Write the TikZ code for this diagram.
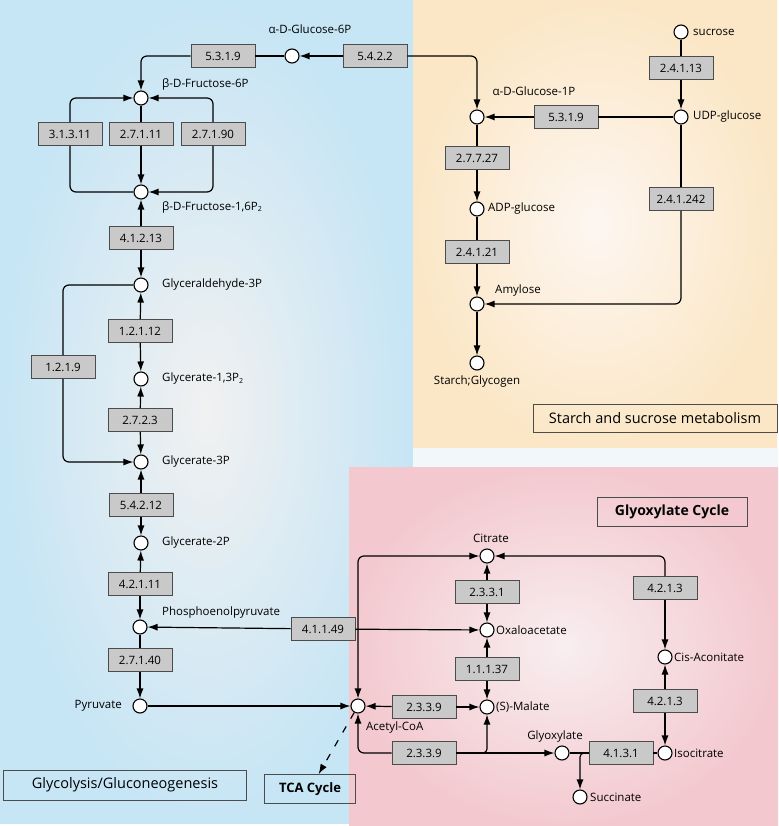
\documentclass[tikz,border=0pt]{standalone}
\usepackage{fontspec}
\setmainfont{Open Sans}
\usepackage{xcolor}
\usepackage{tikz}
\usetikzlibrary{arrows.meta}

\definecolor{bluebg}{HTML}{C6E5F5}
\definecolor{bluemid}{HTML}{F1F1F1}
\definecolor{tanbg}{HTML}{FBE7C6}
\definecolor{tanmid}{HTML}{FDF6F1}
\definecolor{pinkbg}{HTML}{F3C9CF}
\definecolor{pinkmid}{HTML}{F8EEF0}
\definecolor{stripbg}{HTML}{F2F7FA}
\definecolor{enzfill}{HTML}{C9C9C9}

\begin{document}
\begin{tikzpicture}[
        x=1pt, y=-1pt,
        met/.style = {draw, circle, fill=white, line width=1.1pt, inner sep=0pt, minimum size=14pt},
        enz/.style = {draw=black!70, fill=enzfill, rectangle, line width=0.8pt, minimum width=64pt, minimum height=23pt, font=\fontsize{11.5}{13}\selectfont},
        lbl/.style = {inner sep=1pt, font=\fontsize{11.5}{13}\selectfont},
        pathbox/.style = {draw=black!70, rectangle, line width=0.8pt, font=\fontsize{14.5}{16}\selectfont},
        arrow/.style = {-{Latex[length=10pt,width=7pt]}, line width=1.2pt},
        biarrow/.style = {{Latex[length=10pt,width=7pt]}-{Latex[length=10pt,width=7pt]}, line width=1.2pt},
        line/.style = {line width=1.2pt}
    ]

    % Panels
    \useasboundingbox (0,0) rectangle (778,826);
    \fill[white] (0,0) rectangle (778,826);
    \shade[inner color=bluemid, outer color=bluebg] (0,0) rectangle (413,823);
    \shade[inner color=tanmid, outer color=tanbg] (413,0) rectangle (777,448);
    \fill[stripbg] (413,448) rectangle (778,467);
    \shade[inner color=pinkmid, outer color=pinkbg] (349,467) rectangle (778,826);

    % Glycolysis column
    \node[met] (g6p) at (292,56) {};
    \node[lbl] (g6p-t) at (310,29) {α-D-Glucose-6P};
    \node[enz] (e5319a) at (223,56) {5.3.1.9};
    \node[enz] (e5422) at (375,56) {5.4.2.2};
    \node[met] (f6p) at (141,98) {};
    \node[lbl, anchor=west] (f6p-t) at (161,84) {β-D-Fructose-6P};
    \node[enz] (e31311) at (70,134) {3.1.3.11};
    \node[enz] (e27111) at (141,134) {2.7.1.11};
    \node[enz] (e27190) at (213,134) {2.7.1.90};
    \node[met] (f16p) at (141,192) {};
    \node[lbl, anchor=west] (f16p-t) at (161,207) {β-D-Fructose-1,6P\raisebox{-0.3ex}{\scriptsize 2}};
    \node[enz] (e41213) at (141,238) {4.1.2.13};
    \node[met] (gap) at (141,285) {};
    \node[lbl, anchor=west] (gap-t) at (161,285) {Glyceraldehyde-3P};
    \node[enz] (e12112) at (140,331) {1.2.1.12};
    \node[met] (g13p) at (141,379) {};
    \node[lbl, anchor=west] (g13p-t) at (161,379) {Glycerate-1,3P\raisebox{-0.3ex}{\scriptsize 2}};
    \node[enz] (e2723) at (140,420) {2.7.2.3};
    \node[enz] (e1219) at (63,367) {1.2.1.9};
    \node[met] (g3p) at (141,462) {};
    \node[lbl, anchor=west] (g3p-t) at (161,462) {Glycerate-3P};
    \node[enz] (e54212) at (141,505) {5.4.2.12};
    \node[met] (g2p) at (141,543) {};
    \node[lbl, anchor=west] (g2p-t) at (161,543) {Glycerate-2P};
    \node[enz] (e42111) at (140,584) {4.2.1.11};
    \node[met] (pep) at (140,627) {};
    \node[lbl, anchor=west] (pep-t) at (161,613) {Phosphoenolpyruvate};
    \node[enz] (e27140) at (140,660) {2.7.1.40};
    \node[met] (pyr) at (140,706) {};
    \node[lbl, anchor=east] (pyr-t) at (123,706) {Pyruvate};
    \node[enz] (e41149) at (323,629) {4.1.1.49};

    % Starch and sucrose
    \node[met] (sucr) at (681,32) {};
    \node[lbl, anchor=west] (sucr-t) at (692,32) {sucrose};
    \node[enz] (e24113) at (681,68) {2.4.1.13};
    \node[met] (udp) at (681,117) {};
    \node[lbl, anchor=west] (udp-t) at (692,117) {UDP-glucose};
    \node[enz] (e5319b) at (566,117) {5.3.1.9};
    \node[met] (g1p) at (477,117) {};
    \node[lbl] (g1p-t) at (534,91) {α-D-Glucose-1P};
    \node[enz] (e27727) at (477,158) {2.7.7.27};
    \node[met] (adp) at (477,209) {};
    \node[lbl, anchor=west] (adp-t) at (487,209) {ADP-glucose};
    \node[enz] (e24121) at (477,252) {2.4.1.21};
    \node[met] (amy) at (477,304) {};
    \node[lbl] (amy-t) at (518,291) {Amylose};
    \node[met] (stg) at (477,363) {};
    \node[lbl] (stg-t) at (477,382) {Starch;Glycogen};
    \node[enz] (e241242) at (681,199) {2.4.1.242};

    % Glyoxylate cycle
    \node[met] (acoa) at (358,706) {};
    \node[lbl, anchor=west] (acoa-t) at (365,728) {Acetyl-CoA};
    \node[met] (cit) at (487,556) {};
    \node[lbl] (cit-t) at (491,538) {Citrate};
    \node[enz] (e2331) at (487,592) {2.3.3.1};
    \node[met] (oaa) at (487,630) {};
    \node[lbl, anchor=west] (oaa-t) at (495,630) {Oxaloacetate};
    \node[enz] (e11137) at (487,669) {1.1.1.37};
    \node[met] (mal) at (487,707) {};
    \node[lbl, anchor=west] (mal-t) at (495,707) {(S)-Malate};
    \node[enz] (e2339a) at (424,707) {2.3.3.9};
    \node[enz] (e2339b) at (424,753) {2.3.3.9};
    \node[met] (glx) at (562,753) {};
    \node[lbl] (glx-t) at (555,737) {Glyoxylate};
    \node[enz] (e4131) at (621,753) {4.1.3.1};
    \node[met] (icit) at (665,753) {};
    \node[lbl, anchor=west] (icit-t) at (673,753) {Isocitrate};
    \node[enz] (e4213b) at (665,701) {4.2.1.3};
    \node[met] (cis) at (665,657) {};
    \node[lbl, anchor=west] (cis-t) at (673,657) {Cis-Aconitate};
    \node[enz] (e4213a) at (665,588) {4.2.1.3};
    \node[met] (succ) at (580,797) {};
    \node[lbl, anchor=west] (succ-t) at (589,797) {Succinate};

    % Pathway titles
    \node[pathbox, minimum width=243pt, minimum height=30pt] (glyco) at (125,785) {Glycolysis/Gluconeogenesis};
    \node[pathbox, minimum width=91pt, minimum height=29pt, font=\fontsize{13}{15}\selectfont\bfseries] (tca) at (310,789) {TCA Cycle};
    \node[pathbox, minimum width=244pt, minimum height=28pt] (starch) at (655,418) {Starch and sucrose metabolism};
    \node[pathbox, minimum width=150pt, minimum height=29pt, font=\fontsize{14}{16}\selectfont\bfseries] (glyox) at (672,512) {Glyoxylate Cycle};

    % Glycolysis links
    \draw[arrow] (e5422) -- (g6p);
    \draw[arrow, rounded corners=6pt] (e5422) -| (g1p);
    \draw[line] (g6p) -- (e5319a);
    \draw[arrow, rounded corners=6pt] (e5319a) -| (f6p);
    \draw[line, rounded corners=6pt] (f16p) -| (e31311);
    \draw[arrow, rounded corners=6pt] (e31311) |- (f6p);
    \draw[line] (f6p) -- (e27111);
    \draw[arrow] (e27111) -- (f16p);
    \draw[arrow, rounded corners=6pt] (e27190) |- (f6p);
    \draw[arrow, rounded corners=6pt] (e27190) |- (f16p);
    \draw[arrow] (e41213) -- (f16p);
    \draw[arrow] (e41213) -- (gap);
    \draw[arrow] (e12112) -- (gap);
    \draw[arrow] (e12112) -- (g13p);
    \draw[arrow] (e2723) -- (g13p);
    \draw[arrow] (e2723) -- (g3p);
    \draw[line, rounded corners=6pt] (gap) -| (e1219);
    \draw[arrow, rounded corners=6pt] (e1219) |- (g3p);
    \draw[arrow] (e54212) -- (g3p);
    \draw[arrow] (e54212) -- (g2p);
    \draw[arrow] (e42111) -- (g2p);
    \draw[arrow] (e42111) -- (pep);
    \draw[line] (pep) -- (e27140);
    \draw[arrow] (e27140) -- (pyr);
    \draw[arrow] (pyr) -- (acoa);
    \draw[arrow] (e41149) -- (pep);
    \draw[arrow] (e41149) -- (oaa);
    \draw[arrow, dash pattern=on 7pt off 9pt] (acoa) -- (tca);

    % Starch links
    \draw[line] (sucr) -- (e24113);
    \draw[arrow] (e24113) -- (udp);
    \draw[line] (udp) -- (e5319b);
    \draw[arrow] (e5319b) -- (g1p);
    \draw[line] (g1p) -- (e27727);
    \draw[arrow] (e27727) -- (adp);
    \draw[line] (adp) -- (e24121);
    \draw[arrow] (e24121) -- (amy);
    \draw[arrow] (amy) -- (stg);
    \draw[line] (udp) -- (e241242);
    \draw[arrow, rounded corners=6pt] (e241242) |- (amy);

    % Glyoxylate links
    \draw[biarrow, rounded corners=6pt] (acoa) |- (cit);
    \draw[arrow] (e2331) -- (cit);
    \draw[arrow] (e2331) -- (oaa);
    \draw[arrow] (e11137) -- (oaa);
    \draw[arrow] (e11137) -- (mal);
    \draw[arrow] (e2339a) -- (acoa);
    \draw[arrow] (e2339a) -- (mal);
    \draw[arrow, rounded corners=6pt] (e2339b) -| (acoa);
    \draw[arrow] (e2339b) -- (glx);
    \draw[arrow, rounded corners=4pt] (e2339b.east) -| (mal);
    \draw[line] (icit) -- (e4131);
    \draw[line] (e4131) -- (glx);
    \draw[arrow, rounded corners=4pt] (e4131.west) -| (succ);
    \draw[arrow, rounded corners=6pt] (e4213a) |- (cit);
    \draw[arrow] (e4213a) -- (cis);
    \draw[arrow] (e4213b) -- (cis);
    \draw[arrow] (e4213b) -- (icit);

\end{tikzpicture}
\end{document}
